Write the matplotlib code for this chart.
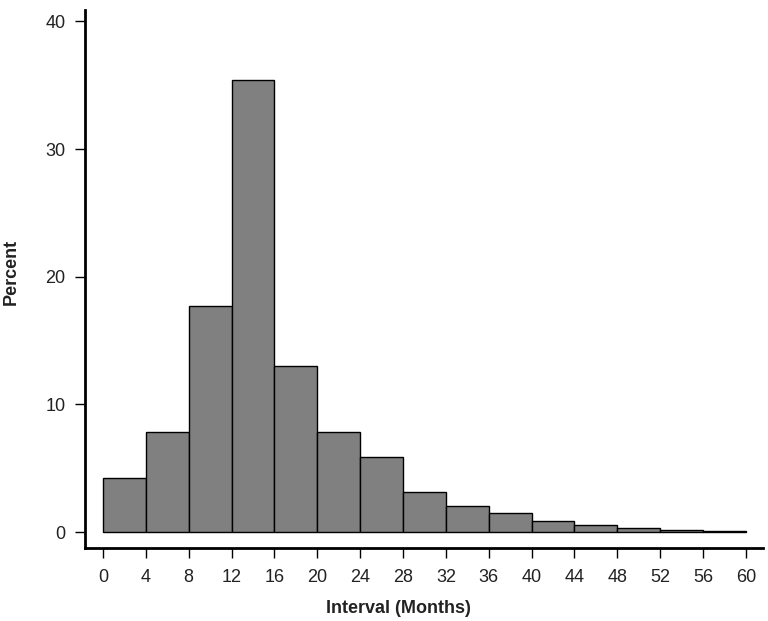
import matplotlib.pyplot as plt
import numpy as np

plt.rcParams['font.family'] = ['Liberation Sans', 'DejaVu Sans']

bin_edges = [0, 4, 8, 12, 16, 20, 24, 28, 32, 36, 40, 44, 48, 52, 56, 60]
percent = [4.2, 7.8, 17.7, 35.4, 13.0, 7.8, 5.9, 3.1, 2.05, 1.47, 0.85, 0.53, 0.33, 0.14, 0.06]
x_ticks = [0, 4, 8, 12, 16, 20, 24, 28, 32, 36, 40, 44, 48, 52, 56, 60]
y_ticks = [0, 10, 20, 30, 40]

fig = plt.figure(figsize=(7.68, 6.21), dpi=100)
ax = fig.add_axes([0.1107, 0.1176, 0.8828, 0.8664])

lefts = np.array(bin_edges[:-1])
widths = np.diff(bin_edges)
ax.bar(lefts, percent, width=widths, align='edge', color='#808080',
       edgecolor='black', linewidth=1)

ax.set_xlim(-1.68, 61.6)
ax.set_ylim(-1.25, 40.9)
ax.set_xticks(x_ticks)
ax.set_yticks(y_ticks)
ax.tick_params(direction='out', length=7, width=1, labelsize=13, colors='black')
ax.tick_params(axis='x', pad=8)
ax.tick_params(axis='y', pad=7)
for lbl in ax.get_xticklabels() + ax.get_yticklabels():
    lbl.set_color('#222222')

for s in ['top', 'right']:
    ax.spines[s].set_visible(False)
for s in ['left', 'bottom']:
    ax.spines[s].set_linewidth(2)

ax.set_xlabel('Interval (Months)', fontsize=13, fontweight='bold', color='#222222')
ax.set_ylabel('Percent', fontsize=13, fontweight='bold', color='#222222')
ax.xaxis.set_label_coords(0.463, -0.097)
ax.yaxis.set_label_coords(-0.097, 0.513)

fig.savefig('out.png', dpi=100)
